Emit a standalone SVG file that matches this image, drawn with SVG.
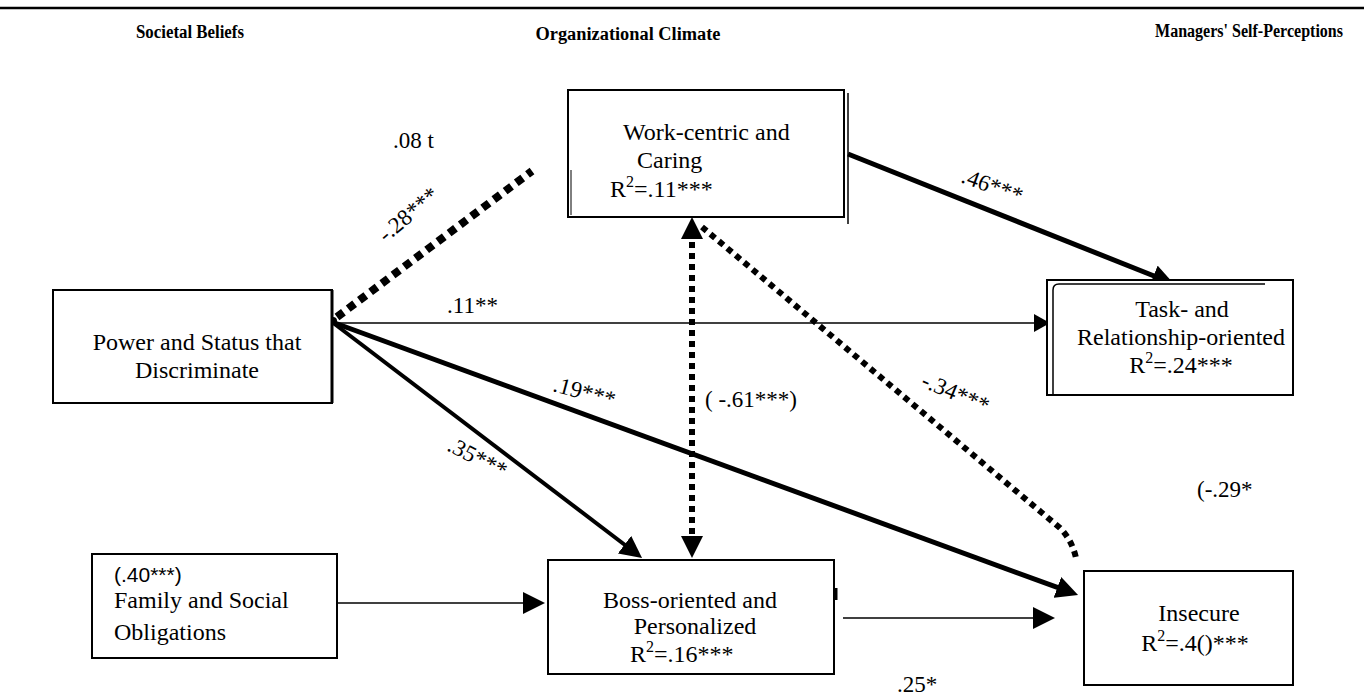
<svg xmlns="http://www.w3.org/2000/svg" width="1364" height="698" viewBox="0 0 1364 698">
<style>
.hdr{font-family:"Liberation Serif","Times New Roman",serif;font-weight:bold;font-size:18px;fill:#000;text-anchor:middle}
.t{font-family:"Liberation Serif","Times New Roman",serif;font-size:24px;fill:#000}
.m{text-anchor:middle}
.lbl{font-family:"Liberation Serif","Times New Roman",serif;font-size:23px;fill:#000}
.sans{font-family:"Liberation Sans",Arial,sans-serif;font-size:21px;fill:#000}
.box{fill:#fff;stroke:#000;stroke-width:2}
.thin{fill:none;stroke:#000;stroke-width:1.6}
.thick{fill:none;stroke:#000;stroke-width:5}
.med{fill:none;stroke:#000;stroke-width:4}
.dot1{fill:none;stroke:#000;stroke-width:8;stroke-dasharray:8 6}
.dot2{fill:none;stroke:#000;stroke-width:6;stroke-dasharray:6 5}
</style>
<defs>
<marker id="ah" markerUnits="userSpaceOnUse" markerWidth="22" markerHeight="22" refX="8" refY="11" orient="auto-start-reverse" viewBox="0 0 22 22">
<path d="M0,0 L22,11 L0,22 z" fill="#000"/>
</marker>
<marker id="ahs" markerUnits="userSpaceOnUse" markerWidth="16" markerHeight="18" refX="6" refY="9" orient="auto" viewBox="0 0 16 18">
<path d="M0,0 L16,9 L0,18 z" fill="#000"/>
</marker>
</defs>
<rect width="1364" height="698" fill="#fff"/>
<line x1="0" y1="8" x2="1364" y2="8" stroke="#000" stroke-width="2.5"/>
<g id="headers">
<text class="hdr" x="190" y="38" textLength="108" lengthAdjust="spacingAndGlyphs">Societal Beliefs</text>
<text class="hdr" x="628" y="40" textLength="185" lengthAdjust="spacingAndGlyphs">Organizational Climate</text>
<text class="hdr" x="1249" y="37" textLength="188" lengthAdjust="spacingAndGlyphs">Managers' Self-Perceptions</text>
</g>
<g id="connectors">
<line class="dot1" x1="337" y1="317" x2="532" y2="171"/>
<path class="dot2" d="M702,227 L1060,528 Q1072,540 1076,558"/>
<line class="dot2" x1="692" y1="231" x2="692" y2="544" marker-start="url(#ah)" marker-end="url(#ah)"/>
<line class="thick" x1="848" y1="154" x2="1161" y2="278.8" marker-end="url(#ah)"/>
<line class="thin" x1="332" y1="323" x2="1040" y2="323" marker-end="url(#ahs)"/>
<line class="thick" x1="332" y1="322" x2="1064.9" y2="590.2" marker-end="url(#ah)"/>
<line class="med" x1="332" y1="322" x2="630.9" y2="549.5" marker-end="url(#ah)"/>
<line class="thin" x1="332" y1="603" x2="531" y2="603" marker-end="url(#ah)"/>
<line class="thin" x1="843" y1="618" x2="1041" y2="618" marker-end="url(#ah)"/>
<circle cx="333" cy="321" r="4" fill="#000"/>
</g>
<g id="labels">
<text class="lbl" x="393" y="148">.08 t</text>
<text class="lbl" transform="translate(386,243) rotate(-40)">-.28***</text>
<text class="lbl" x="447" y="313">.11**</text>
<text class="lbl" transform="translate(960,182) rotate(20)">.46***</text>
<text class="lbl" transform="translate(552,391) rotate(15)">.19***</text>
<text class="lbl" transform="translate(446,450) rotate(27)">.35***</text>
<text class="lbl" transform="translate(920,386) rotate(23)">-.34***</text>
<text class="lbl" x="705" y="407">( -.61***)</text>
<text class="lbl" x="1197" y="497">(-.29*</text>
<text class="lbl" x="897" y="692">.25*</text>
</g>
<g id="node-power">
<rect class="box" x="53" y="290" width="279" height="113"/>
<line x1="332" y1="290" x2="332" y2="403" stroke="#000" stroke-width="3"/>
<text class="t m" x="197" y="350">Power and Status that</text>
<text class="t m" x="197" y="378">Discriminate</text>
</g>
<g id="node-work">
<rect class="box" x="568" y="90" width="276" height="127"/>
<line x1="848" y1="93" x2="848" y2="224" stroke="#000" stroke-width="1.5"/>
<line x1="571" y1="170" x2="571" y2="215" stroke="#000" stroke-width="1"/>
<text class="t" x="623" y="140">Work-centric and</text>
<text class="t" x="637" y="168">Caring</text>
<text class="t" x="610" y="197">R<tspan font-size="16" dy="-10">2</tspan><tspan dy="10">=.11***</tspan></text>
</g>
<g id="node-task">
<rect class="box" x="1047" y="280" width="246" height="115"/>
<path d="M1053,395 L1053,290 Q1053,284 1059,284 L1265,284" fill="none" stroke="#000" stroke-width="1.5"/>
<text class="t m" x="1182" y="317">Task- and</text>
<text class="t m" x="1181" y="345">Relationship-oriented</text>
<text class="t m" x="1181" y="373">R<tspan font-size="16" dy="-10">2</tspan><tspan dy="10">=.24***</tspan></text>
</g>
<g id="node-family">
<rect class="box" x="92" y="554" width="245" height="104"/>
<text class="sans" x="114" y="582">(.40***)</text>
<text class="t" x="114" y="608">Family and Social</text>
<text class="t" x="114" y="640">Obligations</text>
</g>
<g id="node-boss">
<rect class="box" x="548" y="560" width="286" height="114"/>
<line x1="836" y1="588" x2="836" y2="600" stroke="#000" stroke-width="3"/>
<text class="t m" x="690" y="608">Boss-oriented and</text>
<text class="t m" x="695" y="634">Personalized</text>
<text class="t" x="630" y="662">R<tspan font-size="16" dy="-10">2</tspan><tspan dy="10">=.16***</tspan></text>
</g>
<g id="node-insecure">
<rect class="box" x="1084" y="571" width="209" height="114"/>
<text class="t m" x="1199" y="621">Insecure</text>
<text class="t m" x="1195" y="651">R<tspan font-size="16" dy="-10">2</tspan><tspan dy="10">=.4()***</tspan></text>
</g>
</svg>
